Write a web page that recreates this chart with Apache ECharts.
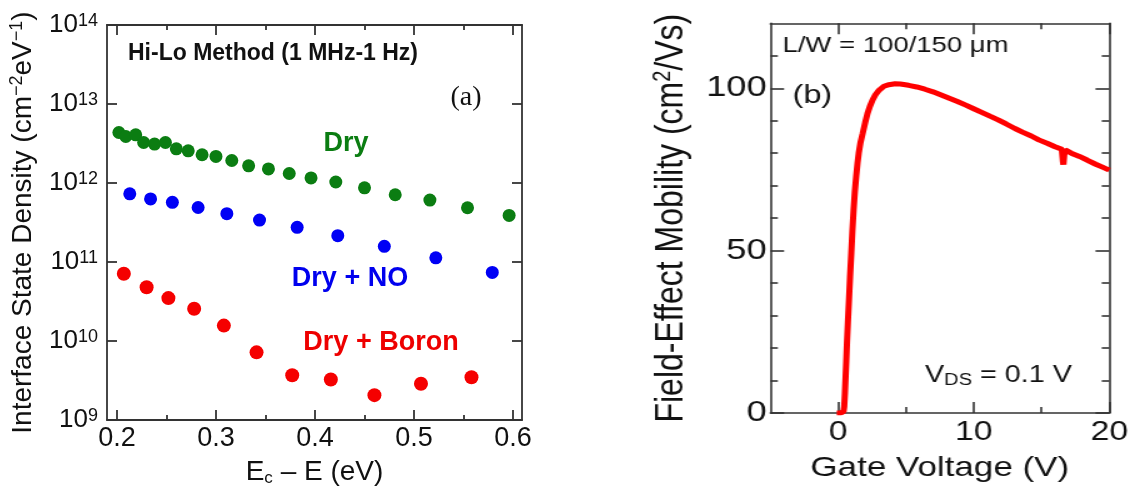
<!DOCTYPE html>
<html>
<head>
<meta charset="utf-8">
<script src="https://cdn.jsdelivr.net/npm/echarts@6/dist/echarts.min.js"></script>
<style>
  html, body { margin: 0; padding: 0; background: #fff; width: 1135px; height: 492px; overflow: hidden; }
  #dit { position: absolute; left: 0; top: 0; width: 600px; height: 492px; }
  /* panel (b) is drawn narrow and widened horizontally */
  #mob { position: absolute; left: 640px; top: 0; width: 396px; height: 492px;
         transform: scaleX(1.25); transform-origin: 0 0; }
</style>
</head>
<body>
<div id="dit"></div>
<div id="mob"></div>
<script>
// ---------- (a) interface state density, Hi-Lo method ----------
const energyDry = [0.202, 0.209, 0.219, 0.227, 0.238, 0.249, 0.260, 0.272, 0.286, 0.300, 0.316,
                   0.333, 0.353, 0.374, 0.396, 0.421, 0.450, 0.481, 0.516, 0.554, 0.596];
const ditDry = [4.36e12, 3.88e12, 4.07e12, 3.26e12, 3.11e12, 3.26e12, 2.71e12, 2.56e12, 2.28e12, 2.17e12, 1.93e12,
                1.65e12, 1.51e12, 1.32e12, 1.16e12, 1.03e12, 8.71e11, 7.11e11, 6.09e11, 4.87e11, 3.89e11];

const energyNO = [0.213, 0.234, 0.256, 0.282, 0.311, 0.344, 0.382, 0.423, 0.470, 0.522, 0.579];
const ditNO = [7.3e11, 6.3e11, 5.7e11, 4.9e11, 4.1e11, 3.4e11, 2.75e11, 2.16e11, 1.58e11, 1.13e11, 7.4e10];

const energyBoron = [0.207, 0.230, 0.252, 0.278, 0.308, 0.341, 0.377, 0.416, 0.460, 0.507, 0.558];
const ditBoron = [7.1e10, 4.8e10, 3.5e10, 2.56e10, 1.57e10, 7.2e9, 3.7e9, 3.27e9, 2.07e9, 2.88e9, 3.49e9];

const energyTicks = [0.2, 0.3, 0.4, 0.5, 0.6];
const energyMinorTicks = [0.25, 0.35, 0.45, 0.55];

// ---------- (b) field-effect mobility vs gate voltage ----------
const gateVoltage = [-0.1, 0.2, 0.4, 0.45, 0.5, 0.55, 0.6, 0.65, 0.72, 0.8, 0.88, 0.97, 1.05, 1.14, 1.23,
                     1.33, 1.43, 1.52, 1.65, 1.81, 2.0, 2.17, 2.35, 2.54, 2.75, 3.02, 3.38, 3.75, 4.2, 4.59,
                     5.2, 5.8, 6.4, 7.0, 7.6, 8.2, 8.8, 9.42, 10.0, 10.63, 11.2, 11.84, 12.4, 13.04, 13.6,
                     14.25, 14.8, 15.46, 16.0, 16.5, 16.58, 16.62, 16.68, 16.75, 17.2, 17.8, 18.36, 19.0, 19.5, 20.0];
const mobility = [0, 0, 0.5, 2, 6, 11, 16, 21.5, 28, 34.8, 42, 49.2, 56, 62.5, 68,
                  72.8, 77, 80, 83.3, 86.1, 89.5, 92.3, 94.5, 96.4, 98, 99.4, 100.6, 101.1, 101.4, 101.3,
                  100.9, 100.4, 99.7, 98.9, 97.9, 96.9, 95.9, 94.8, 93.7, 92.5, 91.4, 90.2, 89, 87.6, 86.5,
                  85.3, 84.1, 83, 82, 81.2, 77.5, 76.5, 79.5, 81, 80, 79, 77.9, 76.6, 75.7, 74.8];

const gateTicks = [0, 10, 20];
const gateMinorTicks = [5, 15];
const mobilityTicks = [0, 50, 100];
const mobilityMinorTicks = [10, 20, 30, 40, 60, 70, 80, 90, 110];

const SANS = '"Liberation Sans", Arial, Helvetica, sans-serif';
const SERIF = '"Liberation Serif", "Times New Roman", serif';
const INK = '#111';
const FRAME = '#333';

function pairs(xs, ys) { return xs.map((x, i) => [x, ys[i]]); }

// one side of the frame: ticks drawn inward, optional labels
function frameAxis(base, opts) {
  return Object.assign({
    axisLine: { show: opts.line !== false, onZero: false,
                lineStyle: { color: FRAME, width: opts.lineWidth || 1.8 } },
    axisTick: { show: true, inside: true, length: opts.tickLen, customValues: opts.ticks,
                lineStyle: { color: FRAME, width: opts.lineWidth || 1.8 } },
    axisLabel: opts.label ? Object.assign({ customValues: opts.ticks }, opts.label) : { show: false },
    splitLine: { show: false }
  }, base);
}

// ---------------- panel (a) ----------------
const ditChart = echarts.init(document.getElementById('dit'), null, { renderer: 'canvas' });
const eMin = 0.19, eMax = 0.609;

const decadeLabel = {
  show: true, margin: 9,
  formatter: v => '{b|10}{s|' + Math.round(Math.log10(v)) + '}',
  rich: {
    b: { fontSize: 26, lineHeight: 26, fontFamily: SANS, color: INK },
    s: { fontSize: 18, lineHeight: 10, verticalAlign: 'top', fontFamily: SANS, color: INK }
  }
};

function logAxis(position, withLabel, withName) {
  const ax = {
    type: 'log', logBase: 10, min: 1e9, max: 1e14, position: position,
    axisLine: { show: true, onZero: false, lineStyle: { color: FRAME, width: 1.8 } },
    axisTick: { show: true, inside: true, length: 10, lineStyle: { color: FRAME, width: 1.8 } },
    axisLabel: withLabel ? decadeLabel : { show: false },
    splitLine: { show: false },
    minorTick: { show: false }
  };
  if (withName) {
    Object.assign(ax, {
      name: 'Interface State Density (cm{s|\u22122}eV{s|\u22121})',
      nameLocation: 'middle', nameGap: 60,
      nameTextStyle: {
        fontSize: 28, lineHeight: 30, fontFamily: SANS, color: INK,
        rich: { s: { fontSize: 18, lineHeight: 12, verticalAlign: 'top', fontFamily: SANS, color: INK } }
      }
    });
  }
  return ax;
}

const energyLabel = {
  show: true, margin: 5, fontSize: 27, fontFamily: SANS, color: INK,
  formatter: v => v.toFixed(1)
};

ditChart.setOption({
  animation: false,
  grid: { left: 107, top: 25, right: 78, bottom: 71, containLabel: false },
  xAxis: [
    frameAxis({ type: 'value', min: eMin, max: eMax, position: 'bottom',
      name: '{t|E}{sub|c}{t| \u2013 E (eV)}', nameLocation: 'middle', nameGap: 36,
      nameTextStyle: {
        fontSize: 28, lineHeight: 30, fontFamily: SANS, color: INK,
        rich: {
          t: { fontSize: 28, lineHeight: 30, fontFamily: SANS, color: INK },
          sub: { fontSize: 17, lineHeight: 10, verticalAlign: 'bottom', fontFamily: SANS, color: INK }
        }
      } },
      { ticks: energyTicks, tickLen: 10, label: energyLabel }),
    frameAxis({ type: 'value', min: eMin, max: eMax, position: 'bottom' },
      { ticks: energyMinorTicks, tickLen: 5, line: false }),
    frameAxis({ type: 'value', min: eMin, max: eMax, position: 'top' },
      { ticks: energyTicks, tickLen: 10 }),
    frameAxis({ type: 'value', min: eMin, max: eMax, position: 'top' },
      { ticks: energyMinorTicks, tickLen: 5, line: false })
  ],
  yAxis: [logAxis('left', true, true), logAxis('right', false, false)],
  graphic: [
    { type: 'text', x: 128, y: 54, style: { text: 'Hi-Lo Method (1 MHz-1 Hz)', fontSize: 23, fontWeight: 'bold',
      fontFamily: SANS, fill: INK, align: 'left', verticalAlign: 'middle' } },
    { type: 'text', x: 466, y: 98, style: { text: '(a)', fontSize: 28, fontFamily: SERIF, fill: INK,
      align: 'center', verticalAlign: 'middle' } },
    { type: 'text', x: 346, y: 144, style: { text: 'Dry', fontSize: 27, fontWeight: 'bold',
      fontFamily: SANS, fill: '#0b7d12', align: 'center', verticalAlign: 'middle' } },
    { type: 'text', x: 350, y: 279, style: { text: 'Dry + NO', fontSize: 27, fontWeight: 'bold',
      fontFamily: SANS, fill: '#0000ee', align: 'center', verticalAlign: 'middle' } },
    { type: 'text', x: 381, y: 343, style: { text: 'Dry + Boron', fontSize: 27, fontWeight: 'bold',
      fontFamily: SANS, fill: '#ee0000', align: 'center', verticalAlign: 'middle' } }
  ],
  series: [
    { name: 'Dry', type: 'scatter', xAxisIndex: 0, yAxisIndex: 0, symbolSize: 13,
      itemStyle: { color: '#0b7d12', opacity: 1 }, data: pairs(energyDry, ditDry) },
    { name: 'Dry + NO', type: 'scatter', xAxisIndex: 0, yAxisIndex: 0, symbolSize: 13,
      itemStyle: { color: '#0000f5', opacity: 1 }, data: pairs(energyNO, ditNO) },
    { name: 'Dry + Boron', type: 'scatter', xAxisIndex: 0, yAxisIndex: 0, symbolSize: 14,
      itemStyle: { color: '#f50000', opacity: 1 }, data: pairs(energyBoron, ditBoron) }
  ]
});

// ---------------- panel (b) ----------------
const mobChart = echarts.init(document.getElementById('mob'), null, { renderer: 'canvas' });
const vMin = -5, vMax = 20, muMin = 0, muMax = 120;

mobChart.setOption({
  animation: false,
  grid: { left: 99.4, top: 23.3, right: 20.6, bottom: 79, containLabel: false },
  xAxis: [
    frameAxis({ type: 'value', min: vMin, max: vMax, position: 'bottom',
      name: 'Gate Voltage (V)', nameLocation: 'middle', nameGap: 40,
      nameTextStyle: { fontSize: 28, lineHeight: 30, fontFamily: SANS, color: INK } },
      { ticks: gateTicks, tickLen: 11, lineWidth: 1.6,
        label: { show: true, margin: 6, fontSize: 27, fontFamily: SANS, color: INK } }),
    frameAxis({ type: 'value', min: vMin, max: vMax, position: 'bottom' },
      { ticks: gateMinorTicks, tickLen: 6, line: false, lineWidth: 1.6 }),
    frameAxis({ type: 'value', min: vMin, max: vMax, position: 'top' },
      { ticks: gateTicks, tickLen: 11, lineWidth: 1.6 }),
    frameAxis({ type: 'value', min: vMin, max: vMax, position: 'top' },
      { ticks: gateMinorTicks, tickLen: 6, line: false, lineWidth: 1.6 })
  ],
  yAxis: [
    frameAxis({ type: 'value', min: muMin, max: muMax, position: 'left',
      name: 'Field-Effect Mobility (cm{s|2}/Vs)', nameLocation: 'middle', nameGap: 45,
      nameTextStyle: {
        fontSize: 32, lineHeight: 34, fontFamily: SANS, color: INK,
        rich: { s: { fontSize: 20, lineHeight: 12, verticalAlign: 'top', fontFamily: SANS, color: INK } }
      } },
      { ticks: mobilityTicks, tickLen: 11, lineWidth: 1.6,
        label: { show: true, margin: 3, fontSize: 29, fontFamily: SANS, color: INK } }),
    frameAxis({ type: 'value', min: muMin, max: muMax, position: 'left' },
      { ticks: mobilityMinorTicks, tickLen: 6, line: false, lineWidth: 1.6 }),
    frameAxis({ type: 'value', min: muMin, max: muMax, position: 'right' },
      { ticks: mobilityTicks, tickLen: 11, lineWidth: 1.6 }),
    frameAxis({ type: 'value', min: muMin, max: muMax, position: 'right' },
      { ticks: mobilityMinorTicks, tickLen: 6, line: false, lineWidth: 1.6 })
  ],
  graphic: [
    { type: 'text', x: 114, y: 46, style: { text: 'L/W = 100/150 \u03bcm', fontSize: 22,
      fontFamily: SANS, fill: INK, align: 'left', verticalAlign: 'middle' } },
    { type: 'text', x: 122, y: 96, style: { text: '(b)', fontSize: 26,
      fontFamily: SANS, fill: INK, align: 'left', verticalAlign: 'middle' } },
    { type: 'text', x: 228, y: 376, style: {
      text: '{t|V}{sub|DS}{t| = 0.1 V}', align: 'left', verticalAlign: 'middle',
      rich: {
        t: { fontSize: 23, lineHeight: 26, fontFamily: SANS, fill: INK },
        sub: { fontSize: 16, lineHeight: 10, verticalAlign: 'bottom', fontFamily: SANS, fill: INK }
      } } }
  ],
  series: [
    { name: 'Mobility', type: 'line', xAxisIndex: 0, yAxisIndex: 0, showSymbol: false,
      lineStyle: { color: '#ff0000', width: 5 }, data: pairs(gateVoltage, mobility) }
  ]
});
</script>
</body>
</html>
